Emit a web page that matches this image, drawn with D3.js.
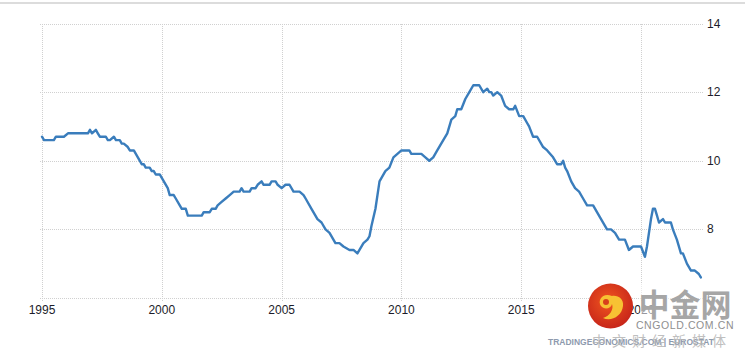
<!DOCTYPE html>
<html><head><meta charset="utf-8">
<script src="https://cdn.jsdelivr.net/npm/d3@7"></script>
<style>
html,body{margin:0;padding:0;background:#fff;}
svg{display:block;}
</style></head>
<body>
<script>
// ---- data (euro area unemployment rate, %) ----
const months = ["1995-01","1995-02","1995-07","1995-08","1995-12","1996-02","1996-12","1997-01","1997-02","1997-04","1997-05","1997-06","1997-09","1997-10","1997-11","1998-01","1998-02","1998-04","1998-05","1998-06","1998-08","1998-09","1998-11","1999-01","1999-03","1999-04","1999-05","1999-07","1999-08","1999-09","1999-10","1999-12","2000-02","2000-04","2000-05","2000-07","2000-08","2000-10","2000-11","2001-01","2001-02","2001-09","2001-10","2002-01","2002-02","2002-04","2002-05","2002-07","2002-09","2002-11","2003-01","2003-04","2003-05","2003-06","2003-09","2003-10","2003-12","2004-01","2004-03","2004-04","2004-07","2004-08","2004-10","2004-11","2005-01","2005-03","2005-05","2005-07","2005-10","2005-12","2006-01","2006-04","2006-07","2006-09","2006-11","2007-01","2007-04","2007-06","2007-08","2007-11","2008-01","2008-03","2008-05","2008-06","2008-08","2008-09","2008-10","2008-12","2009-02","2009-05","2009-07","2009-09","2009-11","2010-01","2010-05","2010-06","2010-11","2011-01","2011-03","2011-05","2011-07","2011-10","2011-12","2012-02","2012-04","2012-05","2012-07","2012-09","2012-11","2013-01","2013-04","2013-06","2013-08","2013-09","2013-10","2013-11","2014-01","2014-03","2014-05","2014-07","2014-09","2014-10","2014-12","2015-02","2015-04","2015-05","2015-07","2015-09","2015-12","2016-02","2016-05","2016-07","2016-09","2016-10","2016-11","2016-12","2017-02","2017-04","2017-06","2017-08","2017-10","2018-01","2018-04","2018-07","2018-08","2018-10","2018-12","2019-02","2019-05","2019-07","2019-09","2020-01","2020-03","2020-04","2020-06","2020-07","2020-08","2020-09","2020-10","2020-12","2021-01","2021-04","2021-05","2021-07","2021-09","2021-10","2021-12","2022-02","2022-04","2022-06","2022-07"];
const rates = [10.7,10.6,10.6,10.7,10.7,10.8,10.8,10.9,10.8,10.9,10.8,10.7,10.7,10.6,10.6,10.7,10.6,10.6,10.5,10.5,10.4,10.3,10.3,10.1,9.9,9.9,9.8,9.8,9.7,9.7,9.6,9.6,9.4,9.2,9.0,9.0,8.9,8.7,8.6,8.6,8.4,8.4,8.5,8.5,8.6,8.6,8.7,8.8,8.9,9.0,9.1,9.1,9.2,9.1,9.1,9.2,9.2,9.3,9.4,9.3,9.3,9.4,9.4,9.3,9.2,9.3,9.3,9.1,9.1,9.0,8.9,8.6,8.3,8.2,8.0,7.9,7.6,7.6,7.5,7.4,7.4,7.3,7.5,7.6,7.7,7.8,8.1,8.6,9.4,9.7,9.8,10.1,10.2,10.3,10.3,10.2,10.2,10.1,10.0,10.1,10.3,10.6,10.8,11.2,11.3,11.5,11.5,11.8,12.0,12.2,12.2,12.0,12.1,12.0,12.0,11.9,12.0,11.9,11.6,11.5,11.5,11.6,11.3,11.3,11.1,11.0,10.7,10.7,10.4,10.3,10.1,9.9,9.9,10.0,9.8,9.7,9.4,9.2,9.1,8.9,8.7,8.7,8.4,8.1,8.0,8.0,7.9,7.7,7.7,7.4,7.5,7.5,7.2,7.5,8.3,8.6,8.6,8.4,8.2,8.3,8.2,8.2,8.0,7.7,7.3,7.3,7.0,6.8,6.8,6.7,6.6];
const xTickYears = [1995,2000,2005,2010,2015,2020];
const yTicks = [6,8,10,12,14];
const sourceText = "TRADINGECONOMICS.COM | EUROSTAT";

const W = 745, H = 357;
const parse = d3.timeParse("%Y-%m");
const data = months.map((m,i)=>({d:parse(m), v:rates[i]}));

const svg = d3.select("body").append("svg").attr("width",W).attr("height",H);

// top border
svg.append("line").attr("x1",0).attr("x2",W).attr("y1",3).attr("y2",3)
  .attr("stroke","#dcdcdc").attr("stroke-width",2);

const x = d3.scaleTime().domain([new Date(1995,0,1), new Date(2020,0,1)]).range([42,641]);
const y = d3.scaleLinear().domain([6,14]).range([298,23.5]);

const gridLeft = 40, gridRight = 703;

// horizontal grid
svg.append("g").selectAll("line").data(yTicks).join("line")
  .attr("x1",gridLeft).attr("x2",gridRight)
  .attr("y1",d=>Math.round(y(d))+0.5).attr("y2",d=>Math.round(y(d))+0.5)
  .attr("stroke","#d0d0d0").attr("stroke-width",1).attr("stroke-dasharray","1,1");

// vertical grid + ticks
svg.append("g").selectAll("line").data(xTickYears).join("line")
  .attr("x1",d=>Math.round(x(new Date(d,0,1)))+0.5).attr("x2",d=>Math.round(x(new Date(d,0,1)))+0.5)
  .attr("y1",24).attr("y2",302)
  .attr("stroke","#d0d0d0").attr("stroke-width",1).attr("stroke-dasharray","1,1");

// y labels
svg.append("g").selectAll("text").data(yTicks).join("text")
  .attr("x",707).attr("y",d=>y(d)+4)
  .attr("font-family","Liberation Sans, Arial, sans-serif").attr("font-size",12)
  .attr("fill","#1c1c2a").text(d=>d);

// x labels
svg.append("g").selectAll("text").data(xTickYears).join("text")
  .attr("x",d=>x(new Date(d,0,1))).attr("y",314)
  .attr("text-anchor","middle")
  .attr("font-family","Liberation Sans, Arial, sans-serif").attr("font-size",12)
  .attr("fill","#1c1c2a").text(d=>d);

// line
const line = d3.line().x(d=>x(d.d)).y(d=>y(d.v)).curve(d3.curveLinear);
svg.append("path").datum(data).attr("d",line)
  .attr("fill","none").attr("stroke","#3a7dbc").attr("stroke-width",2.4)
  .attr("stroke-linejoin","round").attr("stroke-linecap","round");

// ---- watermark ----
const wm = svg.append("g");
const defs = svg.append("defs");
const rg = defs.append("radialGradient").attr("id","rg").attr("cx","45%").attr("cy","40%").attr("r","60%");
rg.append("stop").attr("offset","0%").attr("stop-color","#f0561f");
rg.append("stop").attr("offset","100%").attr("stop-color","#c8261a");
wm.append("rect").attr("x",640).attr("y",284).attr("width",95).attr("height",62).attr("fill","#fff").attr("opacity",0.55);
wm.append("circle").attr("cx",610.5).attr("cy",306).attr("r",22.5).attr("fill","url(#rg)");
wm.append("path")
  .attr("d","M612,296 C603,292 597,300 601,306 C604,310 611,309 612,304 C614,309 610,316 603,318 C611,322 622,316 623,306 C624,299 618,295 612,296 Z")
  .attr("fill","#f7c233");
wm.append("circle").attr("cx",606).attr("cy",302).attr("r",3).attr("fill","#d8401c");
wm.append("text").attr("x",685).attr("y",316).attr("text-anchor","middle")
  .attr("font-family","Noto Sans CJK SC").attr("font-weight",700).attr("font-size",31)
  .attr("fill","#a6a6a6").text("中金网");
wm.append("text").attr("x",685).attr("y",329).attr("text-anchor","middle")
  .attr("font-family","Liberation Sans, Arial, sans-serif").attr("font-size",10.5).attr("letter-spacing",0.6)
  .attr("fill","#8f8f8f").text("CNGOLD.COM.CN");
wm.append("text").attr("x",548).attr("y",345)
  .attr("font-family","Liberation Sans, Arial, sans-serif").attr("font-size",8.5).attr("font-weight",700)
  .attr("fill","#8e9aae").text(sourceText);
wm.append("text").attr("x",662).attr("y",346).attr("text-anchor","middle")
  .attr("font-family","Noto Sans CJK SC").attr("font-size",14).attr("letter-spacing",6)
  .attr("fill","#b5b5b5").attr("opacity",0.85).text("中文财经新媒体");
</script>
</body></html>
